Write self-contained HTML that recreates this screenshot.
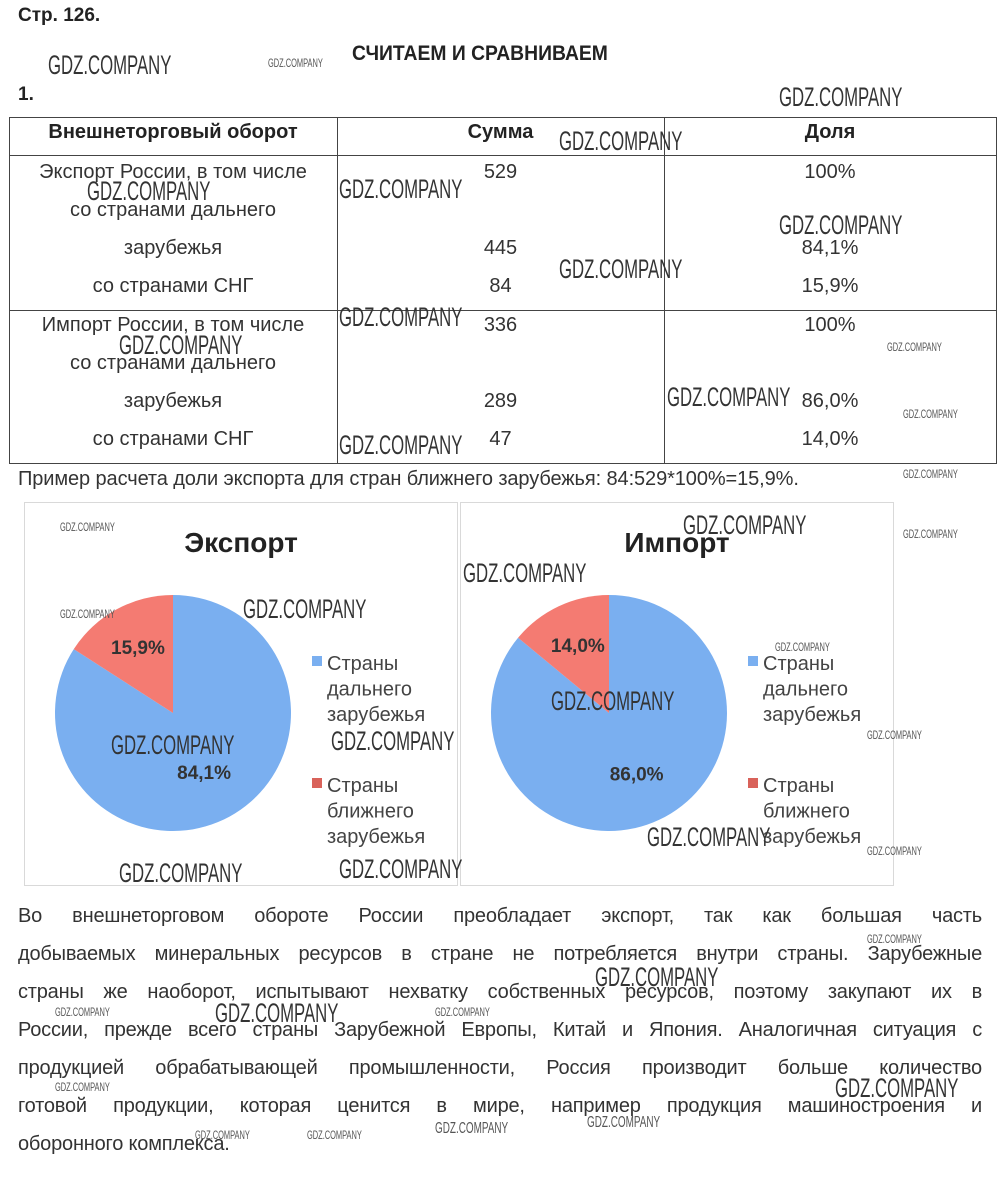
<!DOCTYPE html>
<html><head><meta charset="utf-8">
<style>
*{margin:0;padding:0;box-sizing:border-box}
body{width:1000px;height:1191px;background:#fff;position:relative;overflow:hidden;font-family:"Liberation Sans",sans-serif;color:#222}
.a{position:absolute;white-space:nowrap}
.wm{position:absolute;white-space:nowrap;font-family:"Liberation Sans Narrow","Liberation Sans",sans-serif;color:#333;transform-origin:0 0;transform:scaleX(.62);font-weight:normal}
.big{font-size:27px}
.sm{font-size:12px;color:#555}
.cell{position:absolute;font-size:20px;color:#333;text-align:center;white-space:nowrap}
.vl{position:absolute;width:1px;background:#444}
.hl{position:absolute;height:1px;background:#444}
.p{position:absolute;left:18px;width:964px;font-size:20px;color:#333;text-align:justify;text-align-last:justify;white-space:nowrap;letter-spacing:-0.2px}
</style></head><body>
<div class="a" style="left:18px;top:5px;font-size:19px;font-weight:bold">Стр. 126.</div>
<div class="a" style="left:352px;top:42px;font-size:21px;font-weight:bold;transform:scaleX(.92);transform-origin:0 0">СЧИТАЕМ И СРАВНИВАЕМ</div>
<div class="a" style="left:18px;top:84px;font-size:19px;font-weight:bold">1.</div>

<div>
<div class="hl" style="left:9px;top:117px;width:987px"></div>
<div class="hl" style="left:9px;top:155px;width:987px"></div>
<div class="hl" style="left:9px;top:310px;width:987px"></div>
<div class="hl" style="left:9px;top:463px;width:987px"></div>
<div class="vl" style="left:9px;top:117px;height:347px"></div>
<div class="vl" style="left:337px;top:117px;height:347px"></div>
<div class="vl" style="left:664px;top:117px;height:347px"></div>
<div class="vl" style="left:996px;top:117px;height:347px"></div>
<div class="cell" style="left:9px;width:328px;top:121px;font-weight:bold;font-size:20px;color:#222">Внешнеторговый оборот</div>
<div class="cell" style="left:337px;width:327px;top:121px;font-weight:bold;font-size:20px;color:#222">Сумма</div>
<div class="cell" style="left:664px;width:332px;top:121px;font-weight:bold;font-size:20px;color:#222">Доля</div>
<div class="cell" style="left:9px;width:328px;top:161px">Экспорт России, в том числе</div>
<div class="cell" style="left:9px;width:328px;top:199px">со странами дальнего</div>
<div class="cell" style="left:9px;width:328px;top:237px">зарубежья</div>
<div class="cell" style="left:9px;width:328px;top:275px">со странами СНГ</div>
<div class="cell" style="left:9px;width:328px;top:314px">Импорт России, в том числе</div>
<div class="cell" style="left:9px;width:328px;top:352px">со странами дальнего</div>
<div class="cell" style="left:9px;width:328px;top:390px">зарубежья</div>
<div class="cell" style="left:9px;width:328px;top:428px">со странами СНГ</div>
<div class="cell" style="left:337px;width:327px;top:161px">529</div>
<div class="cell" style="left:337px;width:327px;top:237px">445</div>
<div class="cell" style="left:337px;width:327px;top:275px">84</div>
<div class="cell" style="left:337px;width:327px;top:314px">336</div>
<div class="cell" style="left:337px;width:327px;top:390px">289</div>
<div class="cell" style="left:337px;width:327px;top:428px">47</div>
<div class="cell" style="left:664px;width:332px;top:161px">100%</div>
<div class="cell" style="left:664px;width:332px;top:237px">84,1%</div>
<div class="cell" style="left:664px;width:332px;top:275px">15,9%</div>
<div class="cell" style="left:664px;width:332px;top:314px">100%</div>
<div class="cell" style="left:664px;width:332px;top:390px">86,0%</div>
<div class="cell" style="left:664px;width:332px;top:428px">14,0%</div>
</div>
<div class="a" style="left:18px;top:468px;font-size:20px;color:#333;letter-spacing:-0.1px">Пример расчета доли экспорта для стран ближнего зарубежья: 84:529*100%=15,9%.</div>

<svg id="charts" class="a" style="left:0;top:0" width="1000" height="1191"></svg>

<div class="p" style="top:905px">Во внешнеторговом обороте России преобладает экспорт, так как большая часть</div>
<div class="p" style="top:943px">добываемых минеральных ресурсов в стране не потребляется внутри страны. Зарубежные</div>
<div class="p" style="top:981px">страны же наоборот, испытывают нехватку собственных ресурсов, поэтому закупают их в</div>
<div class="p" style="top:1019px">России, прежде всего страны Зарубежной Европы, Китай и Япония. Аналогичная ситуация с</div>
<div class="p" style="top:1057px">продукцией обрабатывающей промышленности, Россия производит больше количество</div>
<div class="p" style="top:1095px">готовой продукции, которая ценится в мире, например продукция машиностроения и</div>
<div class="p" style="top:1133px;text-align-last:left">оборонного комплекса.</div>

<div>
<div class="wm big" style="left:48px;top:50px">GDZ.COMPANY</div>
<div class="wm sm" style="left:268px;top:56px">GDZ.COMPANY</div>
<div class="wm big" style="left:779px;top:82px">GDZ.COMPANY</div>
<div class="wm big" style="left:559px;top:126px">GDZ.COMPANY</div>
<div class="wm big" style="left:87px;top:176px">GDZ.COMPANY</div>
<div class="wm big" style="left:339px;top:174px">GDZ.COMPANY</div>
<div class="wm big" style="left:779px;top:210px">GDZ.COMPANY</div>
<div class="wm big" style="left:559px;top:254px">GDZ.COMPANY</div>
<div class="wm big" style="left:339px;top:302px">GDZ.COMPANY</div>
<div class="wm big" style="left:119px;top:330px">GDZ.COMPANY</div>
<div class="wm sm" style="left:887px;top:340px">GDZ.COMPANY</div>
<div class="wm big" style="left:667px;top:382px">GDZ.COMPANY</div>
<div class="wm sm" style="left:903px;top:407px">GDZ.COMPANY</div>
<div class="wm big" style="left:339px;top:430px">GDZ.COMPANY</div>
<div class="wm sm" style="left:903px;top:467px">GDZ.COMPANY</div>
<div class="wm sm" style="left:60px;top:520px">GDZ.COMPANY</div>
<div class="wm big" style="left:683px;top:510px">GDZ.COMPANY</div>
<div class="wm sm" style="left:903px;top:527px">GDZ.COMPANY</div>
<div class="wm big" style="left:463px;top:558px">GDZ.COMPANY</div>
<div class="wm sm" style="left:60px;top:607px">GDZ.COMPANY</div>
<div class="wm big" style="left:243px;top:594px">GDZ.COMPANY</div>
<div class="wm sm" style="left:775px;top:640px">GDZ.COMPANY</div>
<div class="wm big" style="left:551px;top:686px">GDZ.COMPANY</div>
<div class="wm big" style="left:111px;top:730px">GDZ.COMPANY</div>
<div class="wm big" style="left:331px;top:726px">GDZ.COMPANY</div>
<div class="wm sm" style="left:867px;top:728px">GDZ.COMPANY</div>
<div class="wm big" style="left:647px;top:822px">GDZ.COMPANY</div>
<div class="wm sm" style="left:867px;top:844px">GDZ.COMPANY</div>
<div class="wm big" style="left:339px;top:854px">GDZ.COMPANY</div>
<div class="wm big" style="left:119px;top:858px">GDZ.COMPANY</div>
<div class="wm sm" style="left:867px;top:932px">GDZ.COMPANY</div>
<div class="wm big" style="left:595px;top:962px">GDZ.COMPANY</div>
<div class="wm big" style="left:215px;top:998px">GDZ.COMPANY</div>
<div class="wm sm" style="left:55px;top:1005px">GDZ.COMPANY</div>
<div class="wm sm" style="left:435px;top:1005px">GDZ.COMPANY</div>
<div class="wm sm" style="left:55px;top:1080px">GDZ.COMPANY</div>
<div class="wm big" style="left:835px;top:1073px">GDZ.COMPANY</div>
<div class="wm sm" style="left:195px;top:1128px">GDZ.COMPANY</div>
<div class="wm sm" style="left:307px;top:1128px">GDZ.COMPANY</div>
<div class="wm sm" style="left:435px;top:1120px;font-size:16px">GDZ.COMPANY</div>
<div class="wm sm" style="left:587px;top:1114px;font-size:16px">GDZ.COMPANY</div>
</div>

<script>
const chartTitles = ["Экспорт", "Импорт"];
const farShares = [84.1, 86.0];
const nearShares = [15.9, 14.0];
const farLabels = ["84,1%", "86,0%"];
const nearLabels = ["15,9%", "14,0%"];
const legendNames = [["Страны","дальнего","зарубежья"],["Страны","ближнего","зарубежья"]];

const NS = "http://www.w3.org/2000/svg";
const svg = document.getElementById("charts");
function mk(tag, attrs){ const e=document.createElementNS(NS,tag); for(const k in attrs) e.setAttribute(k,attrs[k]); svg.appendChild(e); return e; }
const boxes = [{x:24,w:433,cx:173},{x:460,w:433,cx:609}];
const cy = 713, R = 118;
function pt(cx, ang){ return [cx + R*Math.sin(ang), cy - R*Math.cos(ang)]; }
for (let i=0;i<2;i++){
  const b = boxes[i];
  const box = mk("rect",{x:b.x+0.5,y:502.5,width:b.w,height:383,fill:"none",stroke:"#d9d9d9"});
  
  
  const t = mk("text",{x:b.x+217,y:552,"text-anchor":"middle","font-size":28,"font-weight":"bold",fill:"#222","font-family":"Liberation Sans, sans-serif"});
  t.textContent = chartTitles[i];
  
  
  const total = farShares[i] + nearShares[i];
  const nearAng = nearShares[i]/total*2*Math.PI;
  const [x1,y1] = pt(b.cx, 0);
  const [x2,y2] = pt(b.cx, 2*Math.PI - nearAng);
  const far = mk("path",{d:`M${b.cx},${cy} L${x1},${y1} A${R},${R} 0 1 1 ${x2},${y2} Z`,fill:"#7aaff0"});
  
  
  const near = mk("path",{d:`M${b.cx},${cy} L${x2},${y2} A${R},${R} 0 0 1 ${x1},${y1} Z`,fill:"#f47b72"});
  
  
  const midN = 2*Math.PI - nearAng/2, midF = (2*Math.PI - nearAng)/2;
  const ln = mk("text",{x:b.cx + 0.62*R*Math.sin(midN), y:cy - 0.62*R*Math.cos(midN)+5,"text-anchor":"middle","font-size":19,"font-weight":"bold",fill:"#333","font-family":"Liberation Sans, sans-serif"});
  ln.textContent = nearLabels[i];
  
  
  const lf = mk("text",{x:b.cx + 0.55*R*Math.sin(midF), y:cy - 0.55*R*Math.cos(midF)+9,"text-anchor":"middle","font-size":19,"font-weight":"bold",fill:"#333","font-family":"Liberation Sans, sans-serif"});
  lf.textContent = farLabels[i];
  
  
  const lx = b.x + 288;
  const colors = ["#7aaff0","#d9625a"];
  for (let j=0;j<2;j++){
    const top = 656 + j*122;
    const sq = mk("rect",{x:lx,y:top,width:10,height:10,fill:colors[j]});
    
    
    for (let k=0;k<3;k++){
      const tt = mk("text",{x:lx+15,y:top+14+k*25.5,"font-size":20,fill:"#444","font-family":"Liberation Sans, sans-serif"});
      tt.textContent = legendNames[j][k];
      
      
    }
  }
}
</script>
</body></html>
